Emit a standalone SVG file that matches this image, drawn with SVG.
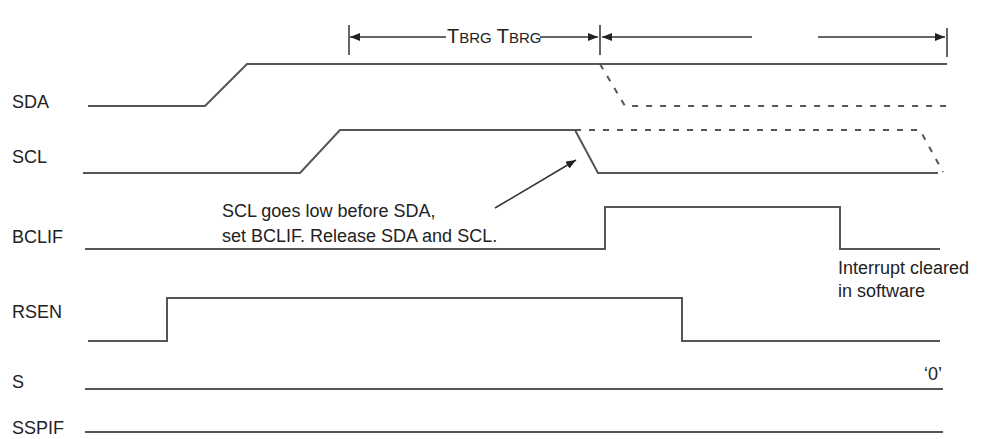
<svg xmlns="http://www.w3.org/2000/svg" width="990" height="439" viewBox="0 0 990 439">
<style>
.w{fill:none;stroke:#555;stroke-width:2}
.d{fill:none;stroke:#555;stroke-width:2;stroke-dasharray:6,8}
.t{font-family:"Liberation Sans",Arial,sans-serif;font-size:18px;fill:#222}
.a{stroke:#333;stroke-width:1.5;fill:none}
</style>
<defs><marker id="ah" markerWidth="10" markerHeight="8" refX="10" refY="4" orient="auto" markerUnits="userSpaceOnUse"><path d="M0,0L10,4L0,8z" fill="#222"/></marker></defs>
<rect width="990" height="439" fill="#fff"/>
<g id="labels">
<text class="t" x="12" y="108">SDA</text>
<text class="t" x="12" y="163">SCL</text>
<text class="t" x="12" y="243">BCLIF</text>
<text class="t" x="12" y="318">RSEN</text>
<text class="t" x="12" y="388">S</text>
<text class="t" x="12" y="434">SSPIF</text>
</g>
<g id="waves">
<path class="w" d="M88,106H205L247,64H947"/>
<path class="d" d="M600,64L625,106H947"/>
<path class="w" d="M83,173H300L340,130H575L598,173H938"/>
<path class="d" d="M575,130H920L943,172"/>
<path class="w" d="M85,249H605V207H840V249H940"/>
<path class="w" d="M88,341H167V298H682V341H940"/>
<path class="w" d="M85,389H943"/>
<path class="w" d="M85,432H943"/>
</g>
<g id="connectors">
<path class="a" d="M349,25V55M600,25V55M947,28V57" stroke-width="2"/>
<path class="a" d="M446,37H350" marker-end="url(#ah)"/>
<path class="a" d="M540,37H598" marker-end="url(#ah)"/>
<path class="a" d="M752,37H602" marker-end="url(#ah)"/>
<path class="a" d="M818,37H945" marker-end="url(#ah)"/>
<path class="a" d="M495,208L576,160" marker-end="url(#ah)"/>
</g>
<g id="notes">
<text class="t" x="447" y="43"><tspan font-size="20">T</tspan><tspan font-size="15">BRG</tspan> <tspan font-size="20">T</tspan><tspan font-size="15">BRG</tspan></text>
<text class="t" x="222" y="217">SCL goes low before SDA,</text>
<text class="t" x="222" y="242">set BCLIF. Release SDA and SCL.</text>
<text class="t" x="838" y="274">Interrupt cleared</text>
<text class="t" x="838" y="297">in software</text>
<text class="t" x="924" y="380" font-size="14">‘0’</text>
</g>
</svg>
